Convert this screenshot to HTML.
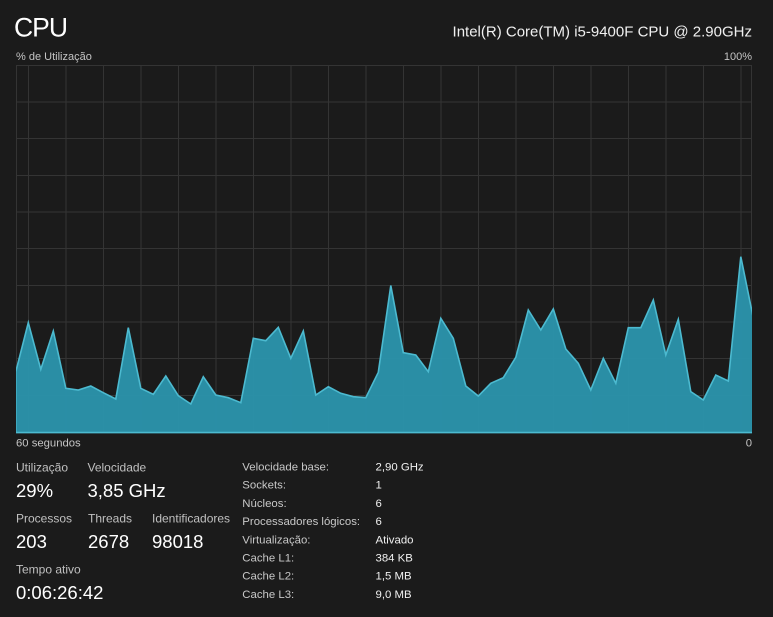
<!DOCTYPE html>
<html>
<head>
<meta charset="utf-8">
<style>
  html,body{margin:0;padding:0;background:#1b1b1b;}
  body{width:773px;height:617px;overflow:hidden;position:relative;font-family:"Liberation Sans",sans-serif;}
  svg{position:absolute;left:0;top:0;}
</style>
</head>
<body>
<svg width="773" height="617" viewBox="0 0 773 617" xmlns="http://www.w3.org/2000/svg" font-family="Liberation Sans, sans-serif">
  <rect x="0" y="0" width="773" height="617" fill="#1b1b1b"/>
  <!-- header -->
  <text x="14" y="36.7" font-size="26.5" fill="#ffffff" letter-spacing="-1">CPU</text>
  <text x="752" y="36.7" font-size="15" fill="#f0f0f0" text-anchor="end">Intel(R) Core(TM) i5-9400F CPU @ 2.90GHz</text>
  <text x="16" y="60" font-size="11" fill="#c4c4c4">% de Utilização</text>
  <text x="752" y="60" font-size="11" fill="#c4c4c4" text-anchor="end">100%</text>

  <!-- chart -->
  <defs>
    <clipPath id="c"><rect x="16" y="65" width="736" height="368"/></clipPath>
  </defs>
  <g stroke="#343434" stroke-width="1" fill="none">
    <rect x="16.5" y="65.5" width="735" height="367"/>
    <line x1="16" y1="102" x2="752" y2="102"/>
    <line x1="16" y1="138.5" x2="752" y2="138.5"/>
    <line x1="16" y1="175.5" x2="752" y2="175.5"/>
    <line x1="16" y1="212" x2="752" y2="212"/>
    <line x1="16" y1="248.5" x2="752" y2="248.5"/>
    <line x1="16" y1="285.5" x2="752" y2="285.5"/>
    <line x1="16" y1="322" x2="752" y2="322"/>
    <line x1="16" y1="358.5" x2="752" y2="358.5"/>
    <line x1="16" y1="395.5" x2="752" y2="395.5"/>
    <line x1="28.5" y1="65" x2="28.5" y2="432"/>
    <line x1="66" y1="65" x2="66" y2="432"/>
    <line x1="103.5" y1="65" x2="103.5" y2="432"/>
    <line x1="141" y1="65" x2="141" y2="432"/>
    <line x1="178.5" y1="65" x2="178.5" y2="432"/>
    <line x1="216" y1="65" x2="216" y2="432"/>
    <line x1="253.5" y1="65" x2="253.5" y2="432"/>
    <line x1="291" y1="65" x2="291" y2="432"/>
    <line x1="328.5" y1="65" x2="328.5" y2="432"/>
    <line x1="366" y1="65" x2="366" y2="432"/>
    <line x1="403.5" y1="65" x2="403.5" y2="432"/>
    <line x1="441" y1="65" x2="441" y2="432"/>
    <line x1="478.5" y1="65" x2="478.5" y2="432"/>
    <line x1="516" y1="65" x2="516" y2="432"/>
    <line x1="553.5" y1="65" x2="553.5" y2="432"/>
    <line x1="591" y1="65" x2="591" y2="432"/>
    <line x1="628.5" y1="65" x2="628.5" y2="432"/>
    <line x1="666" y1="65" x2="666" y2="432"/>
    <line x1="703.5" y1="65" x2="703.5" y2="432"/>
    <line x1="741" y1="65" x2="741" y2="432"/>
  </g>
  <g clip-path="url(#c)">
    <polygon fill="#2b93aa" fill-opacity="0.97" stroke="#4cbad0" stroke-width="1.6" stroke-linejoin="miter"
      points="15.8,371.7 28.3,322.7 40.8,369.3 53.3,331 65.8,388.3 78.3,390 90.8,386 103.3,392.7 115.8,399 128.3,327.7 140.8,388.3 153.3,394.3 165.8,376 178.3,395.7 190.8,404 203.3,376.7 215.8,395 228.3,397.7 240.8,402.7 253.3,338.3 265.8,340.7 278.3,327.3 290.8,358.3 303.3,331 315.8,395 328.3,386.7 340.8,393.3 353.3,396.7 365.8,397.7 378.3,372.3 390.8,285.5 403.3,352.7 415.8,355 428.3,371.7 440.8,318.3 453.3,338.3 465.8,386 478.3,396 490.8,383.3 503.3,377.7 515.8,357.3 528.3,310 540.8,330 553.3,309 565.8,349 578.3,363.3 590.8,390 603.3,358.3 615.8,383.3 628.3,327.7 640.8,327.7 653.3,300 665.8,355 678.3,319.3 690.8,391.7 703.3,400 715.8,375 728.3,381 740.8,256.7 753.3,318 753.3,432.5 15.8,432.5"/>
  </g>
  <line x1="16" y1="432.8" x2="752" y2="432.8" stroke="#4cbad0" stroke-width="1.2"/>

  <text x="16" y="446.5" font-size="11.3" fill="#c4c4c4">60 segundos</text>
  <text x="752" y="446.5" font-size="11.3" fill="#c4c4c4" text-anchor="end">0</text>

  <!-- stats left -->
  <g font-size="12" fill="#c0c0c0">
    <text x="16" y="471.7">Utilização</text>
    <text x="87.5" y="471.7">Velocidade</text>
    <text x="16" y="522.5">Processos</text>
    <text x="88" y="522.5">Threads</text>
    <text x="152" y="522.5">Identificadores</text>
    <text x="16" y="573.3">Tempo ativo</text>
  </g>
  <g font-size="18.5" fill="#ffffff">
    <text x="16" y="497">29%</text>
    <text x="87.5" y="497">3,85 GHz</text>
    <text x="16" y="548">203</text>
    <text x="88" y="548">2678</text>
    <text x="152" y="548">98018</text>
    <text x="16" y="599">0:06:26:42</text>
  </g>

  <!-- stats middle -->
  <g font-size="11.4" fill="#c8c8c8">
    <text x="242.3" y="470.5">Velocidade base:</text>
    <text x="242.3" y="488.7">Sockets:</text>
    <text x="242.3" y="506.9">Núcleos:</text>
    <text x="242.3" y="525.1">Processadores lógicos:</text>
    <text x="242.3" y="543.3">Virtualização:</text>
    <text x="242.3" y="561.5">Cache L1:</text>
    <text x="242.3" y="579.7">Cache L2:</text>
    <text x="242.3" y="597.9">Cache L3:</text>
  </g>
  <g font-size="11.4" fill="#f0f0f0">
    <text x="375.5" y="470.5">2,90 GHz</text>
    <text x="375.5" y="488.7">1</text>
    <text x="375.5" y="506.9">6</text>
    <text x="375.5" y="525.1">6</text>
    <text x="375.5" y="543.3">Ativado</text>
    <text x="375.5" y="561.5">384 KB</text>
    <text x="375.5" y="579.7">1,5 MB</text>
    <text x="375.5" y="597.9">9,0 MB</text>
  </g>
</svg>
</body>
</html>
